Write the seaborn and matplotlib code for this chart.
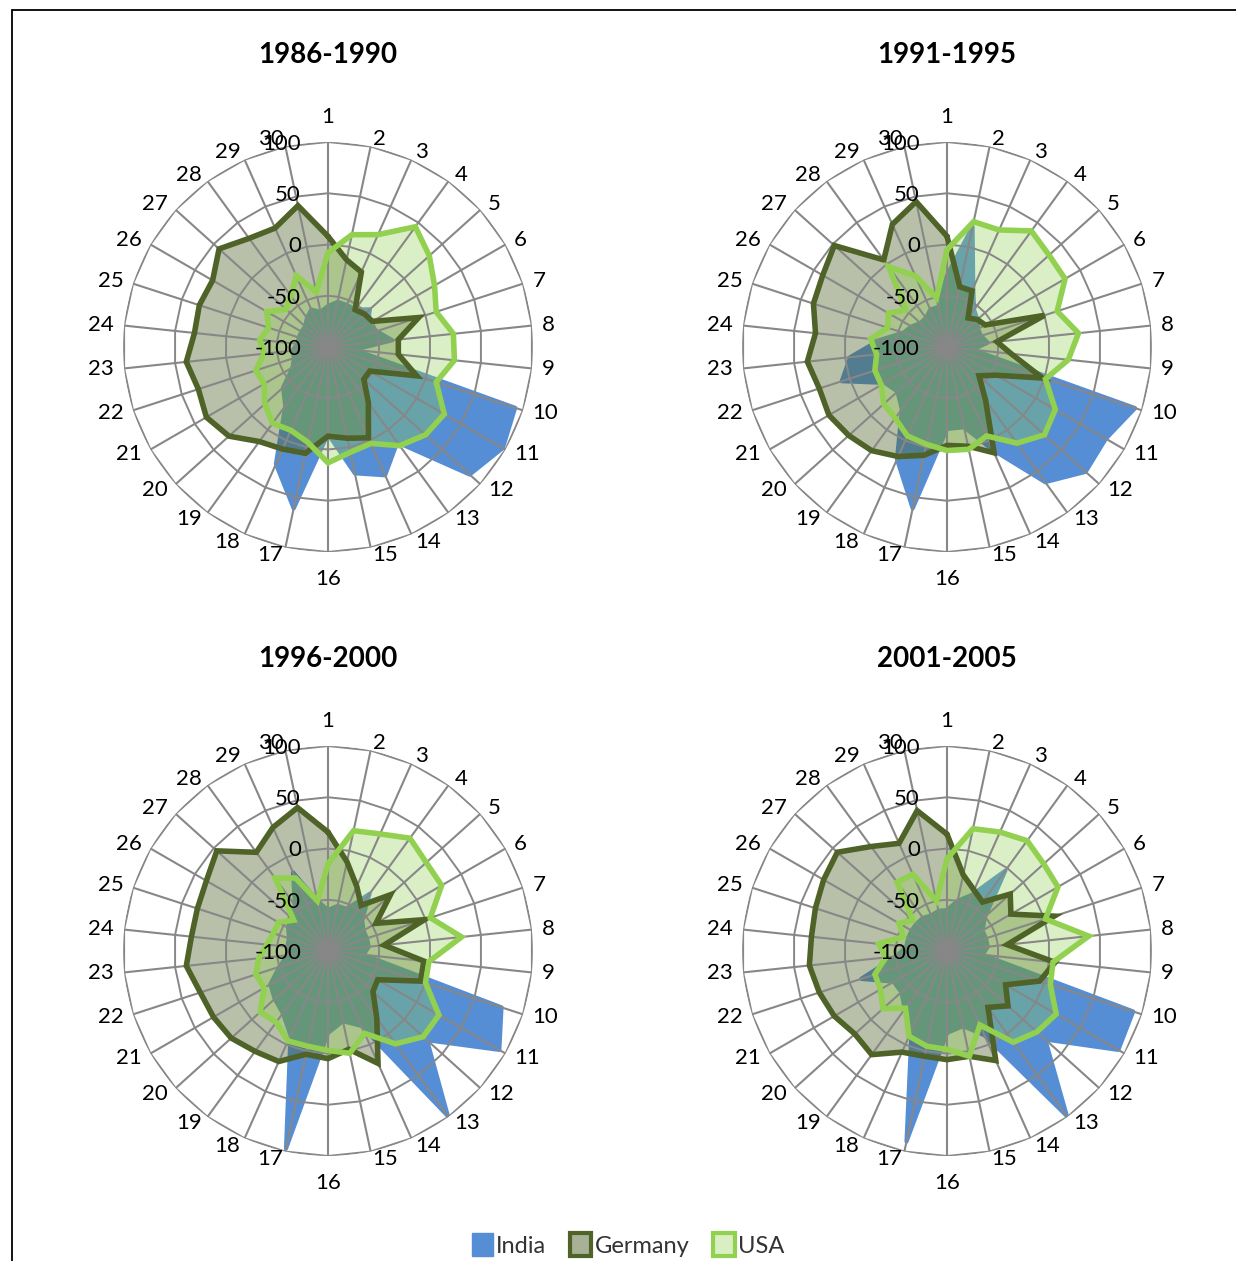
import numpy as np
import matplotlib
matplotlib.use("Agg")
import matplotlib.pyplot as plt
from matplotlib.patches import Patch
import seaborn as sns

# categories 1..30 around the radar, values from -100 (centre) to 100 (rim)
categories = [str(i) for i in range(1, 31)]
periods = ["1986-1990", "1991-1995", "1996-2000", "2001-2005"]
ring_ticks = [-100, -50, 0, 50, 100]

india_1986 = [-60, -55, -55, -55, -45, -55, -50, -37, -74, 92, 97, 86, 15, 37, 26,
              -15, 61, 25, -29, -41, -60, -65, -65, -70, -70, -70, -70, -65, -60, -65]
germany_1986 = [8, -13, -20, -55, -52, -50, -7, -31, -31, -9, -53, -53, -33, -3, -9,
                -13, 6, 9, 14, 30, 37, 33, 39, 31, 32, 30, 43, 31, 27, 41]
usa_1986 = [-8, 12, 20, 45, 33, 20, 11, 23, 24, 11, 31, 28, 19, 3, 5,
            13, -5, -11, -8, -17, -28, -26, -37, -33, -39, -31, -45, -38, -24, -45]

india_1991 = [-30, 20, -37, -55, -60, -65, -65, -60, -75, 93, 79, 82, 63, 10, -20,
              -20, 61, 20, -25, -35, -30, 8, -5, -34, -55, -60, -65, -65, -60, -60]
germany_1991 = [8, -40, -40, -65, -60, -57, 0, -51, -37, -2, -45, -58, -36, 13, -1,
                -4, 8, 17, 25, 29, 33, 31, 37, 29, 37, 40, 48, 5, 31, 45]
usa_1991 = [-5, 25, 25, 40, 34, 33, 13, 29, 19, 1, 22, 28, 16, -5, 2,
            1, -3, -5, -14, -17, -26, -26, -31, -25, -39, -34, -46, -3, -24, -51]

india_1996 = [-60, -55, -55, -31, -55, -60, -60, -60, -65, 78, 93, 30, 99, -20, -30,
              -20, 97, -10, -25, -30, -35, -50, -60, -60, -60, -55, -50, -45, -16, -50]
germany_1996 = [16, -11, -31, -45, -18, -46, -1, -45, -6, -5, -44, -41, -19, 20, -2,
                5, 3, 18, 21, 27, 29, 31, 39, 34, 34, 37, 46, 19, 32, 43]
usa_1996 = [-15, 20, 25, 36, 29, 28, 5, 31, -1, 0, 25, 25, 12, -12, 2,
            -3, -5, -4, -14, -11, -28, -26, -32, -40, -44, -44, -55, -12, -22, -50]

india_2001 = [-60, -50, -40, -3, -50, -60, -60, -60, -65, 91, 93, 29, 99, -10, -25,
              -20, 90, -15, -30, -40, -40, -12, -50, -60, -60, -60, -60, -60, -62, -60]
germany_2001 = [14, -24, -35, -41, -17, -28, 10, -41, 6, -5, -34, -20, -32, 17, 5,
                6, 5, 8, 25, 21, 27, 31, 35, 33, 35, 39, 44, 26, 15, 40]
usa_2001 = [-10, 22, 27, 33, 27, 25, 1, 39, 4, 6, 23, 18, 10, -21, 5,
            -4, -5, -9, -31, -16, -25, -26, -40, -33, -55, -46, -55, -17, -18, -50]

india = [india_1986, india_1991, india_1996, india_2001]
germany = [germany_1986, germany_1991, germany_1996, germany_2001]
usa = [usa_1986, usa_1991, usa_1996, usa_2001]

C_INDIA = "#558ED5"
C_GER = "#4F6228"
C_USA = "#92D050"
C_GRID = "#878787"

sns.set_theme(style="white")
plt.rcParams["font.family"] = ["Lato", "DejaVu Sans"]

W, H = 1236, 1261
fig = plt.figure(figsize=(W / 100, H / 100), dpi=100)

R = 205  # radius of the radar in pixels
centres = [(328, 347), (947, 347), (328, 951), (947, 951)]
title_y = [55, 55, 659, 659]

n = len(categories)
angles = np.deg2rad(np.arange(n) * 12.0)
ang_c = np.append(angles, angles[0])


def closed(v):
    return np.append(v, v[0])


for i, (cx, cy) in enumerate(centres):
    ax = fig.add_axes([(cx - R) / W, 1 - (cy + R) / H, 2 * R / W, 2 * R / H],
                      projection="polar")
    ax.set_theta_zero_location("N")
    ax.set_theta_direction(-1)
    ax.set_ylim(-100, 100)
    ax.set_axis_off()

    # series
    ax.fill(ang_c, closed(india[i]), color=C_INDIA, lw=3, joinstyle="round", zorder=1)
    ax.fill(ang_c, closed(germany[i]), facecolor=C_GER, alpha=0.4, lw=0, zorder=2)
    ax.fill(ang_c, closed(usa[i]), facecolor=C_USA, alpha=0.32, lw=0, zorder=3)

    # polygon grid and spokes
    for ring in ring_ticks[1:]:
        ax.plot(ang_c, [ring] * (n + 1), color=C_GRID, lw=1.4, zorder=4)
    for a in angles:
        ax.plot([a, a], [-100, 100], color=C_GRID, lw=1.5, zorder=4)

    ax.plot(ang_c, closed(germany[i]), color=C_GER, lw=4, solid_joinstyle="miter", zorder=5)
    ax.plot(ang_c, closed(usa[i]), color=C_USA, lw=4, solid_joinstyle="miter", zorder=6)

    # radial value labels
    for v in ring_ticks:
        ax.annotate(str(v), xy=(0, v), xytext=(-27, 0), textcoords="offset pixels",
                    ha="right", va="center_baseline", fontsize=16, color="black", zorder=7)

    # category labels
    for a, lab in zip(angles, categories):
        s, c = np.sin(a), np.cos(a)
        if abs(s) < 0.05:
            off = (0, 232 if c > 0 else -230)
            ha = "center"
        else:
            off = (215 * s, 213 * c + 2)
            ha = "left" if s > 0 else "right"
        ax.annotate(lab, xy=(0, -100), xytext=off, textcoords="offset pixels",
                    ha=ha, va="center_baseline", fontsize=16, color="black",
                    annotation_clip=False, zorder=7)

    fig.text(cx / W, 1 - title_y[i] / H, periods[i], ha="center", va="center",
             fontsize=20, fontweight="bold", color="black")

# legend
handles = [
    Patch(facecolor=C_INDIA, edgecolor=C_INDIA, lw=1),
    Patch(facecolor="#a8b096", edgecolor=C_GER, lw=3),
    Patch(facecolor="#d8efc3", edgecolor=C_USA, lw=3),
]
fig.legend(handles, ["India", "Germany", "USA"], loc="center",
           bbox_to_anchor=(628 / W, 1 - 1245 / H), ncol=3, frameon=False,
           fontsize=17, handlelength=0.9, handleheight=1.1,
           handletextpad=0.15, columnspacing=1.0, labelcolor="#333333")

# outer frame (top and left edges visible)
fig.add_artist(plt.Line2D([12 / W, 1.0], [1 - 10 / H, 1 - 10 / H],
                          transform=fig.transFigure, color="black", lw=1.3))
fig.add_artist(plt.Line2D([12 / W, 12 / W], [0.0, 1 - 10 / H],
                          transform=fig.transFigure, color="black", lw=1.3))

fig.savefig("out.png", dpi=100, facecolor="white")
